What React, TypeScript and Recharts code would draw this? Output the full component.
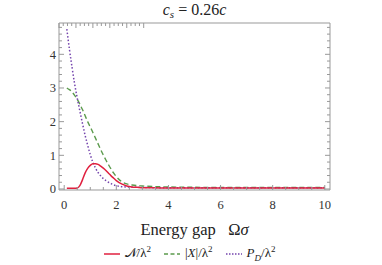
import { LineChart, Line, XAxis, YAxis } from "recharts";

const gap = [0.1, 0.2, 0.3, 0.4, 0.5, 0.6, 0.7, 0.8, 0.9, 1.0, 1.1, 1.2, 1.3, 1.4, 1.5, 1.6, 1.7, 1.8, 1.9, 2.0, 2.2, 2.4, 2.6, 2.8, 3.0, 3.5, 4, 5, 6, 7, 8, 9, 10];
const negativity = [0.02, 0.02, 0.02, 0.02, 0.03, 0.1, 0.27, 0.47, 0.61, 0.7, 0.75, 0.75, 0.73, 0.68, 0.62, 0.55, 0.47, 0.39, 0.32, 0.25, 0.15, 0.09, 0.06, 0.05, 0.04, 0.035, 0.03, 0.03, 0.03, 0.03, 0.03, 0.03, 0.03];
const absX = [3.0, 2.95, 2.88, 2.78, 2.66, 2.52, 2.36, 2.18, 2.0, 1.84, 1.68, 1.51, 1.34, 1.17, 1.01, 0.86, 0.72, 0.59, 0.47, 0.37, 0.22, 0.15, 0.12, 0.1, 0.09, 0.07, 0.06, 0.05, 0.045, 0.045, 0.045, 0.045, 0.045];
const pD = [4.75, 4.15, 3.62, 3.12, 2.7, 2.32, 1.95, 1.6, 1.3, 1.02, 0.79, 0.62, 0.49, 0.39, 0.31, 0.25, 0.2, 0.16, 0.12, 0.1, 0.07, 0.06, 0.05, 0.05, 0.045, 0.04, 0.04, 0.04, 0.04, 0.04, 0.04, 0.04, 0.04];

const xTicks = [0, 0.5, 1, 1.5, 2, 2.5, 3, 3.5, 4, 4.5, 5, 5.5, 6, 6.5, 7, 7.5, 8, 8.5, 9, 9.5, 10];
const yTicks = [0, 0.2, 0.4, 0.6, 0.8, 1, 1.2, 1.4, 1.6, 1.8, 2, 2.2, 2.4, 2.6, 2.8, 3, 3.2, 3.4, 3.6, 3.8, 4, 4.2, 4.4, 4.6, 4.8];

const data = gap.map((g, i) => ({ g, n: negativity[i], x: absX[i], p: pD[i] }));

const FRAME = "#999";
const RED = "#e0203f";
const GREEN = "#5b9a4c";
const PURPLE = "#7444ad";
const SERIF = "Liberation Serif";

const isMajorX = (v: number) => Math.abs(v % 2) < 1e-9;
const isMajorY = (v: number) => Math.abs(v - Math.round(v)) < 1e-9;

const BottomTick = (props: any) => {
  const { x, y, payload } = props;
  const major = isMajorX(payload.value);
  return (
    <g>
      <line x1={x} y1={y} x2={x} y2={y - (major ? 5 : 3)} stroke={FRAME} />
      {major && (
        <text x={x} y={y + 19} textAnchor="middle" fontFamily={SERIF} fontSize={12.5} fill="#333">
          {payload.value}
        </text>
      )}
    </g>
  );
};

const TopTick = (props: any) => {
  const { x, y, payload } = props;
  const major = isMajorX(payload.value);
  return <line x1={x} y1={y} x2={x} y2={y + (major ? 5 : 3)} stroke={FRAME} />;
};

const LeftTick = (props: any) => {
  const { x, y, payload } = props;
  const major = isMajorY(payload.value);
  return (
    <g>
      <line x1={x} y1={y} x2={x + (major ? 5 : 3)} y2={y} stroke={FRAME} />
      {major && (
        <text x={x - 3} y={y + 4.5} textAnchor="end" fontFamily={SERIF} fontSize={12.5} fill="#333">
          {Math.round(payload.value)}
        </text>
      )}
    </g>
  );
};

const RightTick = (props: any) => {
  const { x, y, payload } = props;
  const major = isMajorY(payload.value);
  return <line x1={x} y1={y} x2={x - (major ? 5 : 3)} y2={y} stroke={FRAME} />;
};

const LegendKey = ({ color, dash, width }: { color: string; dash?: string; width: number }) => (
  <svg width={18} height={10} style={{ verticalAlign: "middle", marginRight: 4 }}>
    <line x1={1} y1={5} x2={17} y2={5} stroke={color} strokeWidth={width} strokeDasharray={dash} />
  </svg>
);

export default function App() {
  return (
    <div style={{ position: "absolute", left: 0, top: 0, width: 382, height: 265, background: "#fff", fontFamily: SERIF }}>
      <div style={{ position: "absolute", left: 0, width: 389, top: 0, textAlign: "center", fontSize: 16, color: "#222", lineHeight: "20px", fontFamily: SERIF }}>
        <i>c</i>
        <sub style={{ fontSize: 11, fontStyle: "italic", verticalAlign: "-3px" }}>s</sub>
        {" = 0.26"}
        <i>c</i>
      </div>
      <LineChart width={382} height={265} data={data} margin={{ top: 0, right: 0, bottom: 0, left: 0 }}>
        <XAxis
          dataKey="g"
          type="number"
          domain={[-0.2, 10.2]}
          ticks={xTicks}
          interval={0}
          tickSize={0}
          tickMargin={0}
          tick={<BottomTick />}
          stroke={FRAME}
          height={75}
          allowDataOverflow
        />
        <XAxis
          xAxisId="top"
          orientation="top"
          type="number"
          domain={[-0.2, 10.2]}
          ticks={xTicks}
          interval={0}
          tickSize={0}
          tickMargin={0}
          tick={<TopTick />}
          stroke={FRAME}
          height={23}
          allowDataOverflow
        />
        <YAxis
          type="number"
          domain={[-0.03, 4.93]}
          ticks={yTicks}
          interval={0}
          tickSize={0}
          tickMargin={0}
          tick={<LeftTick />}
          stroke={FRAME}
          width={59}
          allowDataOverflow
        />
        <YAxis
          yAxisId="right"
          orientation="right"
          type="number"
          domain={[-0.03, 4.93]}
          ticks={yTicks}
          interval={0}
          tickSize={0}
          tickMargin={0}
          tick={<RightTick />}
          stroke={FRAME}
          width={52}
          allowDataOverflow
        />
        <Line dataKey="x" type="monotone" stroke={GREEN} strokeWidth={1.4} strokeDasharray="5 3" dot={false} isAnimationActive={false} />
        <Line dataKey="p" type="monotone" stroke={PURPLE} strokeWidth={1.5} strokeDasharray="1.5 2" dot={false} isAnimationActive={false} />
        <Line dataKey="n" type="monotone" stroke={RED} strokeWidth={1.5} dot={false} isAnimationActive={false} />
      </LineChart>
      <div style={{ position: "absolute", left: 0, width: 389, top: 220, textAlign: "center", fontSize: 16.5, color: "#222", fontFamily: SERIF }}>
        Energy gap&nbsp;&nbsp; Ω<i>σ</i>
      </div>
      <div style={{ position: "absolute", left: 0, width: 378, top: 244, textAlign: "center", fontSize: 13, color: "#222", whiteSpace: "nowrap", fontFamily: SERIF }}>
        <LegendKey color={RED} width={1.5} />
        <span>𝒩/λ<sup style={{ fontSize: 9 }}>2</sup></span>
        <span style={{ display: "inline-block", width: 12 }} />
        <LegendKey color={GREEN} width={1.3} dash="4 2.5" />
        <span>|<i>X</i>|/λ<sup style={{ fontSize: 9 }}>2</sup></span>
        <span style={{ display: "inline-block", width: 12 }} />
        <LegendKey color={PURPLE} width={1.4} dash="1.5 1.5" />
        <span><i>P</i><sub style={{ fontSize: 9, fontStyle: "italic" }}>D</sub>/λ<sup style={{ fontSize: 9 }}>2</sup></span>
      </div>
    </div>
  );
}
